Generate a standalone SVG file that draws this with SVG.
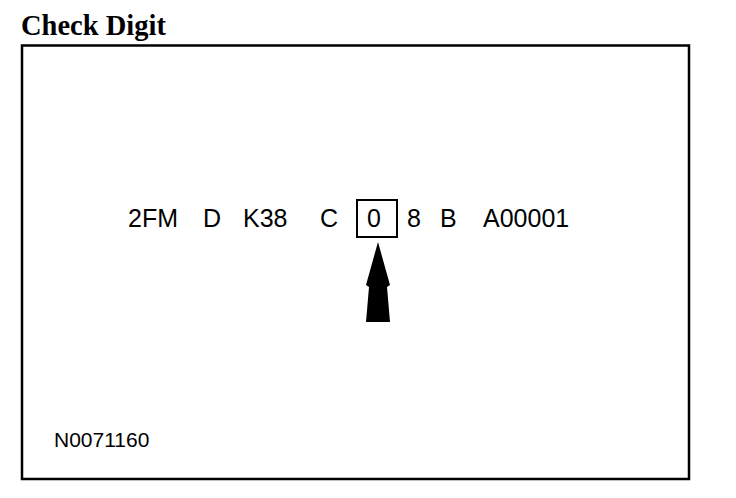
<svg xmlns="http://www.w3.org/2000/svg" width="736" height="498" viewBox="0 0 736 498">
<style>
.t{font-family:"Liberation Sans",Arial,sans-serif;font-size:25px;fill:#000}
.ttl{font-family:"Liberation Serif","Times New Roman",serif;font-size:28.5px;font-weight:bold;fill:#000}
.lbl{font-family:"Liberation Sans",Arial,sans-serif;font-size:21px;fill:#000}
.frame{fill:none;stroke:#000;stroke-width:2.5}
.box{fill:none;stroke:#000;stroke-width:2}
</style>
<rect width="736" height="498" fill="#fff"/>
<g id="title"><text class="ttl" x="21" y="35">Check Digit</text></g>
<g id="frame"><rect class="frame" x="22" y="45.5" width="667" height="433.5"/></g>
<g id="vin">
<text class="t" x="128" y="227">2FM</text>
<text class="t" x="203" y="227">D</text>
<text class="t" x="243" y="227">K38</text>
<text class="t" x="320" y="227">C</text>
<g id="check-digit">
<rect class="box" x="357" y="200" width="40" height="37"/>
<text class="t" x="367" y="227">0</text>
</g>
<text class="t" x="407" y="227">8</text>
<text class="t" x="440" y="227">B</text>
<text class="t" x="483" y="227">A00001</text>
</g>
<g id="connectors">
<polygon points="378,242 390,285 387,287 390,322 366,322 369,287 366,285" fill="#000"/>
</g>
<g id="ref"><text class="lbl" x="54" y="447">N0071160</text></g>
</svg>
